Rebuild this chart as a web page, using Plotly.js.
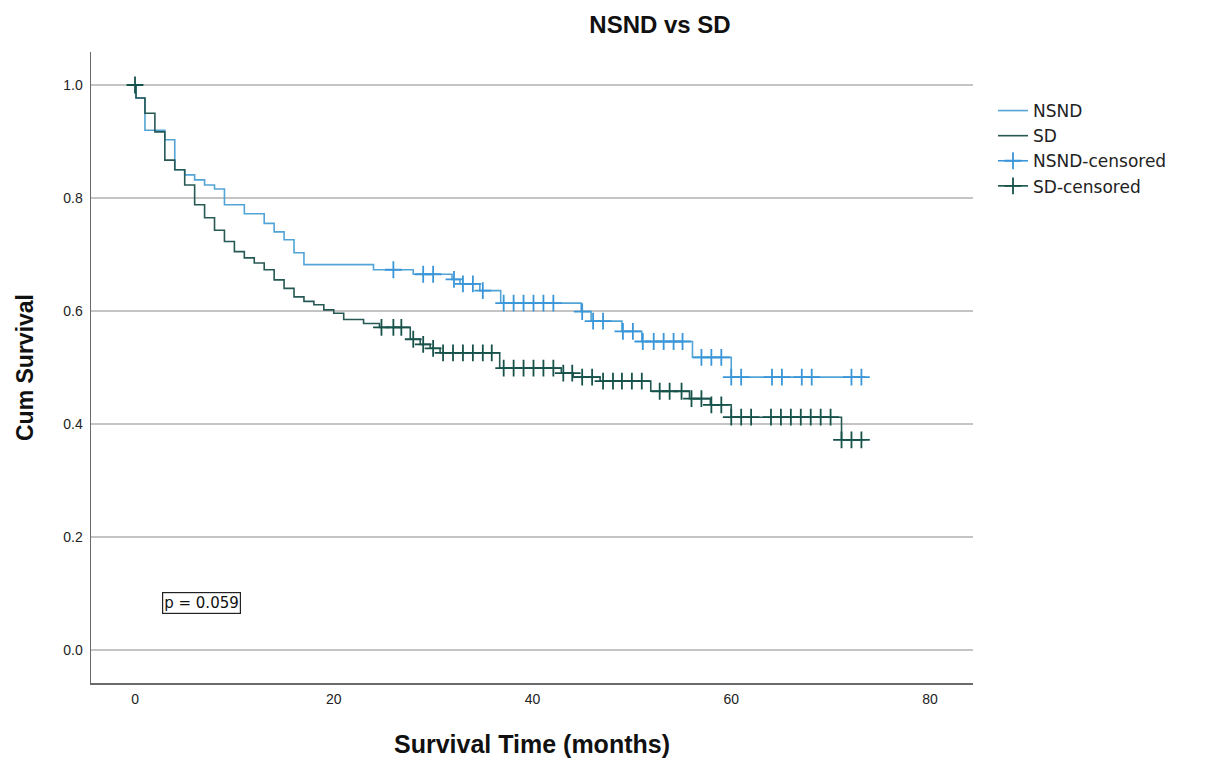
<!DOCTYPE html>
<html>
<head>
<meta charset="utf-8">
<script src="https://cdn.plot.ly/plotly-3.0.1.min.js"></script>
<style>html,body{margin:0;padding:0;background:#fff;}#chart{width:1205px;height:760px;}</style>
</head>
<body>
<div id="chart"></div>
<script>
// Kaplan-Meier step data (months, cumulative survival)
const nsndTime = [0, 0.1, 1, 3, 4, 5, 6, 7, 8, 9, 11, 13, 14, 15, 16, 17, 24, 28, 31.9, 32.7, 34.7, 36.8, 44.9, 45.9, 49, 51, 56.1, 60, 73.5];
const nsndSurv = [1.0, 0.977, 0.920, 0.903, 0.850, 0.841, 0.832, 0.823, 0.816, 0.788, 0.772, 0.755, 0.740, 0.726, 0.703, 0.682, 0.673, 0.665, 0.656, 0.648, 0.636, 0.614, 0.599, 0.582, 0.564, 0.546, 0.518, 0.483, 0.483];

const sdTime = [0, 0.1, 1, 2, 3, 4, 5, 6, 7, 8, 9, 10, 11, 12, 13, 14, 15, 16, 17, 18, 19, 20, 21, 23, 24.6, 27.7, 28.7, 29.7, 30.7, 36.7, 42.9, 44.1, 46.8, 51.9, 55.8, 57.9, 60, 71.1, 73.5];
const sdSurv = [1.0, 0.977, 0.950, 0.917, 0.867, 0.850, 0.823, 0.788, 0.765, 0.743, 0.723, 0.705, 0.694, 0.685, 0.673, 0.655, 0.640, 0.625, 0.617, 0.611, 0.602, 0.596, 0.585, 0.578, 0.571, 0.550, 0.541, 0.534, 0.526, 0.499, 0.490, 0.483, 0.476, 0.458, 0.445, 0.434, 0.412, 0.372, 0.372];

// Censoring times
const nsndCensorTime = [26.0, 29.0, 30.0, 32.1, 33.0, 34.0, 35.0, 37.1, 38.1, 39.1, 40.1, 41.1, 42.1, 45.0, 46.1, 47.1, 49.1, 50.1, 51.1, 52.2, 53.2, 54.2, 55.1, 57.0, 58.0, 59.0, 60.0, 61.0, 64.1, 65.1, 67.1, 68.1, 72.1, 73.1];
const sdCensorTime = [0, 24.8, 26.0, 26.8, 28.0, 29.0, 30.0, 31.0, 32.0, 33.0, 34.0, 35.0, 35.9, 37.1, 38.1, 39.1, 40.1, 41.1, 42.1, 43.1, 44.0, 45.0, 46.0, 47.1, 48.1, 49.0, 50.0, 51.0, 52.8, 53.8, 55.0, 56.0, 57.0, 58.0, 59.0, 60.0, 61.0, 62.0, 64.0, 65.0, 66.0, 67.0, 68.0, 69.0, 70.0, 71.1, 72.1, 73.1];

const xTicks = [0, 20, 40, 60, 80];
const yTicks = [0, 0.2, 0.4, 0.6, 0.8, 1.0];
const pText = 'p = 0.059';

function survAt(times, surv, t) {
  let v = surv[0];
  for (let i = 0; i < times.length; i++) { if (times[i] <= t + 1e-9) v = surv[i]; }
  return v;
}
// separate points with gaps so the legend shows a line through the cross but no line is drawn in the plot
function gapped(arr) { const out = []; arr.forEach(v => { out.push(v, null); }); return out; }

const cNSND = 'rgb(82,164,214)';
const cSD = 'rgb(38,88,84)';
const cNSNDm = 'rgb(58,150,216)';
const cSDm = 'rgb(22,82,74)';
const F = 'Liberation Sans, Arial, sans-serif';
const FL = 'DejaVu Sans, Liberation Sans, sans-serif';

const traces = [
  {x: nsndTime, y: nsndSurv, type: 'scatter', mode: 'lines', name: 'NSND',
   line: {shape: 'hv', color: cNSND, width: 1.6}},
  {x: sdTime, y: sdSurv, type: 'scatter', mode: 'lines', name: 'SD',
   line: {shape: 'hv', color: cSD, width: 1.6}},
  {x: gapped(nsndCensorTime), y: gapped(nsndCensorTime.map(t => survAt(nsndTime, nsndSurv, t))), type: 'scatter', mode: 'lines+markers',
   connectgaps: false, name: 'NSND-censored', line: {color: cNSNDm, width: 1.6},
   marker: {symbol: 'cross-thin', size: 12, line: {color: cNSNDm, width: 1.8}, color: cNSNDm}},
  {x: gapped(sdCensorTime), y: gapped(sdCensorTime.map(t => survAt(sdTime, sdSurv, t))), type: 'scatter', mode: 'lines+markers',
   connectgaps: false, name: 'SD-censored', line: {color: cSDm, width: 1.6},
   marker: {symbol: 'cross-thin', size: 12, line: {color: cSDm, width: 1.8}, color: cSDm}}
];

const layout = {
  width: 1205, height: 760,
  paper_bgcolor: '#fff', plot_bgcolor: '#fff',
  margin: {l: 91, r: 232, t: 52, b: 77, autoexpand: false},
  font: {family: F, color: '#222', size: 14},
  title: {text: '<b>NSND vs SD</b>', x: (660 - 91) / 882, xanchor: 'center', xref: 'paper', y: 1 - 25/760, yanchor: 'middle',
          font: {family: F, size: 24, color: '#111'}},
  xaxis: {range: [-4.43, 84.33], tickvals: xTicks, ticktext: xTicks.map(String), showgrid: false, zeroline: false,
          showline: true, linecolor: '#6a6a6a', linewidth: 1.5, ticks: 'outside', ticklen: 3, tickcolor: 'rgba(0,0,0,0)',
          tickfont: {size: 14, color: '#222'},
          title: {text: '<b>Survival Time (months)</b>', standoff: 29, font: {family: F, size: 25, color: '#111'}}, automargin: false, fixedrange: true},
  yaxis: {range: [-0.0584, 1.0584], tickvals: yTicks, ticktext: yTicks.map(v => v.toFixed(1)), showgrid: true,
          gridcolor: '#c4c4c4', gridwidth: 1.5, zeroline: false, showline: true, linecolor: '#6a6a6a', linewidth: 1.5,
          ticks: 'outside', ticklen: 4, tickcolor: 'rgba(0,0,0,0)', tickfont: {size: 14, color: '#222'},
          title: {text: '<b>Cum Survival</b>', standoff: 23, font: {family: F, size: 23, color: '#111'}}, automargin: false, fixedrange: true},
  legend: {x: (993 - 91) / 882, xanchor: 'left', y: 0.935, yanchor: 'top', font: {family: FL, size: 17, color: '#222'},
           tracegroupgap: 0, bgcolor: 'rgba(0,0,0,0)'},
  annotations: [{x: 6.64, y: 0.083, xref: 'x', yref: 'y', text: pText, showarrow: false,
                 font: {family: FL, size: 15, color: '#111'}, bordercolor: '#222', borderwidth: 1.2, borderpad: 1, bgcolor: '#fff'}],
  showlegend: true
};

Plotly.newPlot('chart', traces, layout, {displayModeBar: false, staticPlot: true});
</script>
</body>
</html>
